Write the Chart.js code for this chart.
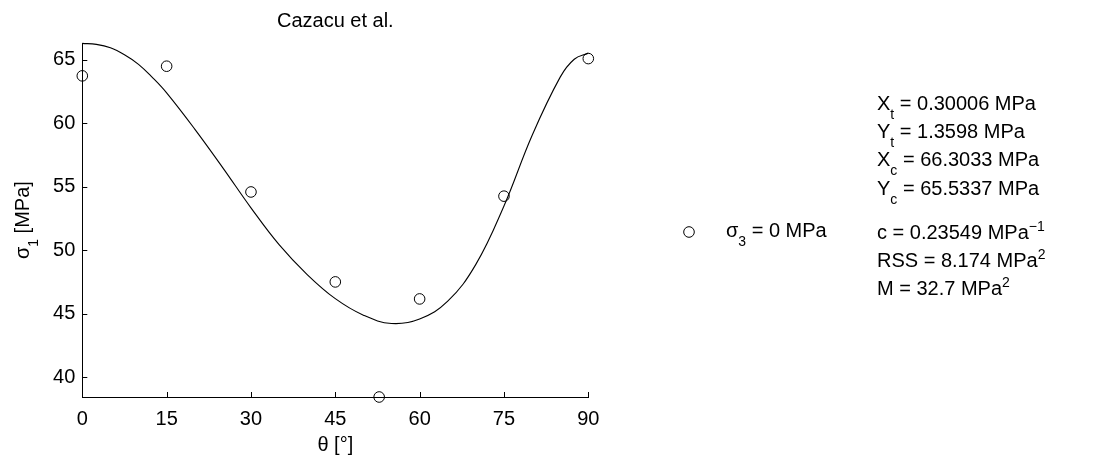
<!DOCTYPE html>
<html>
<head>
<meta charset="utf-8">
<script src="https://cdn.jsdelivr.net/npm/chart.js@4"></script>
<style>
  html, body { margin: 0; padding: 0; background: #fff; }
  #wrap { width: 1114px; height: 462px; position: relative; }
</style>
</head>
<body>
<div id="wrap"><canvas id="fitChart" width="1114" height="462"></canvas></div>
<script>
// measured points (theta in deg, sigma1 in MPa)
const thetaPts = [0, 15, 30, 45, 52.8, 60, 75, 90];
const sigmaPts = [63.74, 64.5, 54.6, 47.52, 38.46, 46.18, 54.27, 65.1];

// fitted Cazacu et al. curve
const curveTheta = [0, 2.5, 5, 7.5, 10, 12.5, 15, 20, 25, 30, 35, 40, 45, 50, 55, 60, 65, 70, 75, 80, 85, 87.5, 90];
const curveSigma = [66.3, 66.22, 65.95, 65.4, 64.65, 63.6, 62.4, 59.55, 56.5, 53.35, 50.45, 48.1, 46.2, 44.9, 44.25, 44.6, 46.0, 48.9, 53.5, 59.05, 63.64, 65.05, 65.53];

const xTicks = [0, 15, 30, 45, 60, 75, 90];
const yTicks = [40, 45, 50, 55, 60, 65];

// text on the right: [text, mode] with mode 0 normal, -1 subscript, 1 superscript
const paramLines = [
  [["X", 0], ["t", -1], [" = 0.30006 MPa", 0]],
  [["Y", 0], ["t", -1], [" = 1.3598 MPa", 0]],
  [["X", 0], ["c", -1], [" = 66.3033 MPa", 0]],
  [["Y", 0], ["c", -1], [" = 65.5337 MPa", 0]],
  [["c = 0.23549 MPa", 0], ["\u22121", 1]],
  [["RSS = 8.174 MPa", 0], ["2", 1]],
  [["M = 32.7 MPa", 0], ["2", 1]],
];
const paramBaselines = [110, 138, 166, 195, 239, 267, 295];
const legendLabel = [["\u03c3", 0], ["3", -1], [" = 0 MPa", 0]];

const FONT = "'Liberation Sans', Arial, Helvetica, sans-serif";

function drawRich(ctx, parts, x, y, size) {
  let cx = x;
  for (const [txt, mode] of parts) {
    let fs = size, dy = 0;
    if (mode === -1) { fs = size * 0.7; dy = size * 0.45; }
    if (mode === 1) { fs = size * 0.7; dy = -size * 0.42; }
    ctx.font = `${fs}px ${FONT}`;
    ctx.fillText(txt, cx, y + dy);
    cx += ctx.measureText(txt).width;
  }
  return cx - x;
}

function richWidth(ctx, parts, size) {
  let w = 0;
  for (const [txt, mode] of parts) {
    const fs = mode === 0 ? size : size * 0.7;
    ctx.font = `${fs}px ${FONT}`;
    w += ctx.measureText(txt).width;
  }
  return w;
}

const decorPlugin = {
  id: "decor",
  afterDraw(chart) {
    const ctx = chart.ctx;
    const xs = chart.scales.x;
    const ys = chart.scales.y;
    const area = chart.chartArea;
    ctx.save();
    ctx.strokeStyle = "#000";
    ctx.lineWidth = 1;

    // inward ticks
    ctx.beginPath();
    for (const v of yTicks) {
      const py = Math.round(ys.getPixelForValue(v)) + 0.5;
      ctx.moveTo(area.left, py);
      ctx.lineTo(area.left + 5, py);
    }
    for (const v of xTicks) {
      const px = Math.round(xs.getPixelForValue(v)) + 0.5;
      ctx.moveTo(px, area.bottom);
      ctx.lineTo(px, area.bottom - 5);
    }
    ctx.stroke();

    ctx.fillStyle = "#000";
    ctx.textBaseline = "alphabetic";

    // title
    ctx.font = `20px ${FONT}`;
    ctx.textAlign = "center";
    const midX = (area.left + area.right) / 2;
    ctx.fillText("Cazacu et al.", midX, 27);

    // x title
    ctx.fillText("\u03b8 [\u00b0]", midX, 451);

    // y title, rotated
    ctx.textAlign = "left";
    const yParts = [["\u03c3", 0], ["1", -1], [" [MPa]", 0]];
    const yw = richWidth(ctx, yParts, 20);
    ctx.save();
    ctx.translate(29, (area.top + area.bottom) / 2);
    ctx.rotate(-Math.PI / 2);
    drawRich(ctx, yParts, -yw / 2, 0, 20);
    ctx.restore();

    // legend
    ctx.beginPath();
    ctx.arc(689, 232, 5.3, 0, Math.PI * 2);
    ctx.stroke();
    drawRich(ctx, legendLabel, 726, 237, 20);

    // parameters
    paramLines.forEach((parts, i) => {
      drawRich(ctx, parts, 877, paramBaselines[i], 20);
    });
    ctx.restore();
  },
};

const ctx = document.getElementById("fitChart").getContext("2d");
new Chart(ctx, {
  type: "scatter",
  data: {
    datasets: [
      {
        label: "fit",
        data: curveTheta.map((t, i) => ({ x: t, y: curveSigma[i] })),
        showLine: true,
        borderColor: "#000",
        borderWidth: 1.1,
        pointRadius: 0,
        tension: 0.4,
        clip: false,
      },
      {
        label: "\u03c33 = 0 MPa",
        data: thetaPts.map((t, i) => ({ x: t, y: sigmaPts[i] })),
        showLine: false,
        pointStyle: "circle",
        pointRadius: 5.3,
        borderColor: "#000",
        borderWidth: 1,
        backgroundColor: "rgba(0,0,0,0)",
        clip: false,
      },
    ],
  },
  options: {
    responsive: false,
    animation: false,
    events: [],
    layout: { padding: { left: 0, right: 1114 - 588.3, top: 43.3, bottom: 0 } },
    plugins: { legend: { display: false }, tooltip: { enabled: false } },
    scales: {
      x: {
        type: "linear",
        min: 0,
        max: 90,
        afterBuildTicks: (s) => { s.ticks = xTicks.map((v) => ({ value: v })); },
        afterFit: (s) => { s.height = 462 - 397; },
        grid: { display: true, drawOnChartArea: false, drawTicks: false },
        border: { display: true, color: "#000", width: 1 },
        ticks: { color: "#000", padding: 10, maxRotation: 0, font: { family: FONT, size: 20 } },
      },
      y: {
        type: "linear",
        min: 38.46,
        max: 66.3033,
        afterBuildTicks: (s) => { s.ticks = yTicks.map((v) => ({ value: v })); },
        afterFit: (s) => { s.width = 82.3; },
        grid: { display: true, drawOnChartArea: false, drawTicks: false },
        border: { display: true, color: "#000", width: 1 },
        ticks: { color: "#000", padding: 7, font: { family: FONT, size: 20 } },
      },
    },
  },
  plugins: [decorPlugin],
});
</script>
</body>
</html>
